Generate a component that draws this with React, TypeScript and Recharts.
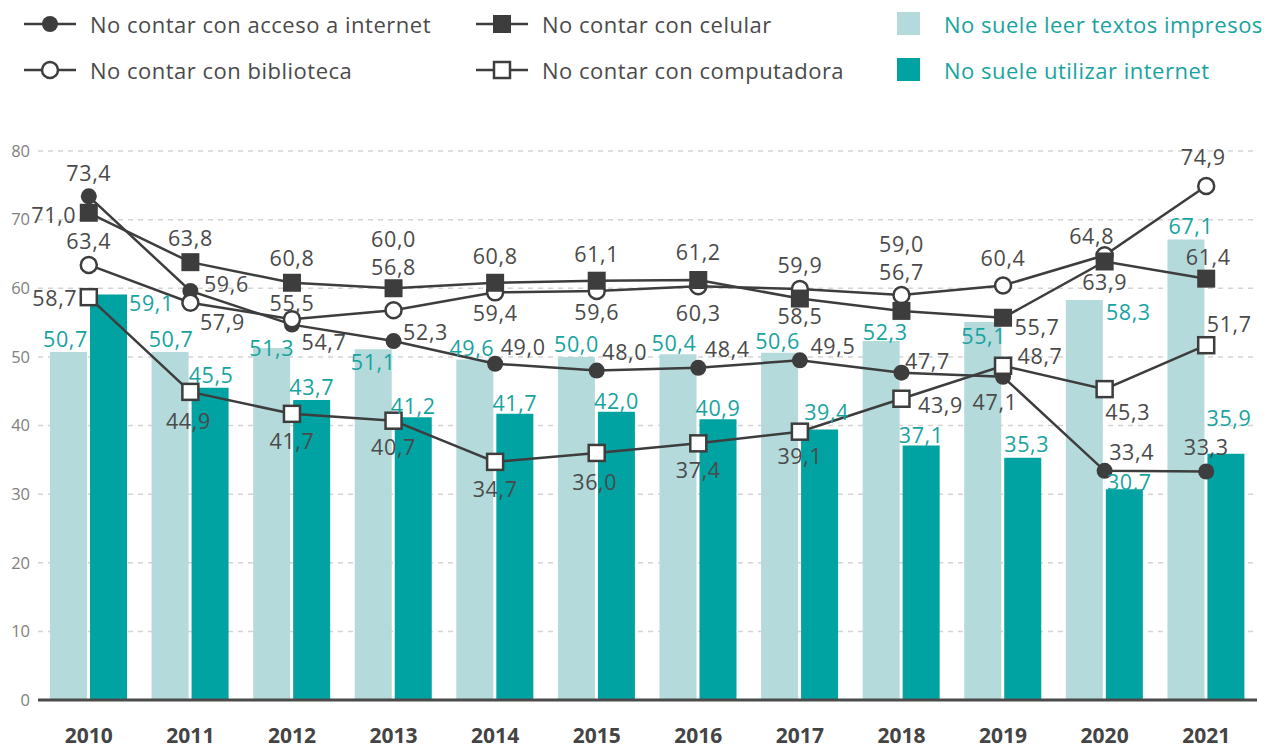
import React from 'react';
import { ComposedChart, Bar, Line, XAxis, YAxis, CartesianGrid, LabelList } from 'recharts';

const years = ['2010', '2011', '2012', '2013', '2014', '2015', '2016', '2017', '2018', '2019', '2020', '2021'];
const leerTextos = [50.7, 50.7, 51.3, 51.1, 49.6, 50.0, 50.4, 50.6, 52.3, 55.1, 58.3, 67.1];
const utilizarInternet = [59.1, 45.5, 43.7, 41.2, 41.7, 42.0, 40.9, 39.4, 37.1, 35.3, 30.7, 35.9];
const accesoInternet = [73.4, 59.6, 54.7, 52.3, 49.0, 48.0, 48.4, 49.5, 47.7, 47.1, 33.4, 33.3];
const celular = [71.0, 63.8, 60.8, 60.0, 60.8, 61.1, 61.2, 58.5, 56.7, 55.7, 63.9, 61.4];
const biblioteca = [63.4, 57.9, 55.5, 56.8, 59.4, 59.6, 60.3, 59.9, 59.0, 60.4, 64.8, 74.9];
const computadora = [58.7, 44.9, 41.7, 40.7, 34.7, 36.0, 37.4, 39.1, 43.9, 48.7, 45.3, 51.7];
const yTicks = [0, 10, 20, 30, 40, 50, 60, 70, 80];

const data = years.map((year, i) => ({
  year,
  leerTextos: leerTextos[i],
  utilizarInternet: utilizarInternet[i],
  accesoInternet: accesoInternet[i],
  celular: celular[i],
  biblioteca: biblioteca[i],
  computadora: computadora[i],
}));

// label placement (text centre relative to the point / bar top)
const accesoOffsets = [[0, -24], [36, -7], [32, 17], [32, -10], [28, -17], [28, -19], [29, -19], [33, -15], [26, -12], [-8, 25], [27, -19], [0, -25]];
const celularOffsets = [[-35, 2], [0, -25], [0, -25], [0, -50], [0, -27], [0, -27], [0, -29], [0, 17], [0, -39], [34, 9], [0, 20], [2, -22]];
const bibliotecaOffsets = [[0, -24], [32, 19], [0, -17], [0, -44], [0, 20], [0, 21], [0, 26], [0, -24], [0, -52], [0, -28], [-13, -20], [-3, -29]];
const computadoraOffsets = [[-34, 0], [-2, 29], [0, 27], [0, 26], [0, 27], [-2, 29], [0, 26], [0, 24], [39, 6], [37, -10], [23, 22], [23, -22]];
const leerOffsets = [[-3, -14], [1, -14], [0, 0], [0, 12], [-3, -12], [0, -13], [-4, -12], [-2, -12], [4, -10], [1, 14], [44, 12], [5, -14]];
const utilizarOffsets = [[43, 8], [1, -13], [0, -14], [0, -12], [0, -11], [0, -11], [0, -12], [7, -18], [0, -11], [4, -14], [5, -8], [3, -36]];

const FONT = '"Open Sans", "Noto Sans", sans-serif';
const DARK = '#3d3d3d';
const TEXT = '#4a4a4a';
const TEAL_TEXT = '#17a3a0';
const LIGHT_BAR = '#b4dadb';
const DARK_BAR = '#00a3a1';

const fmt = (v: number) => Number(v).toFixed(1).replace('.', ',');
const idxFromX = (cx: number) => Math.round((cx - 88.8) / 101.6);

function pointLabel(offsets: number[][], color: string) {
  return (props: any) => {
    const x = Number(props.x);
    const y = Number(props.y);
    const i = props.index ?? idxFromX(x);
    const [dx, dy] = offsets[i] ?? [0, -22];
    return (
      <text x={x + dx} y={y + dy} textAnchor="middle" dominantBaseline="central" fill={color} fontSize={21.5} letterSpacing={0.6} fontFamily={FONT}>
        {fmt(props.value)}
      </text>
    );
  };
}

function barLabel(offsets: number[][], color: string) {
  return (props: any) => {
    const cx = Number(props.x) + Number(props.width) / 2;
    const top = Number(props.y);
    const i = props.index ?? idxFromX(cx);
    const [dx, dy] = offsets[i] ?? [0, -12];
    return (
      <text x={cx + dx} y={top + dy} textAnchor="middle" dominantBaseline="central" fill={color} fontSize={21.5} letterSpacing={0.6} fontFamily={FONT}>
        {fmt(props.value)}
      </text>
    );
  };
}

const filledCircle = (p: any) => <circle key={`fc-${p.index}`} cx={p.cx} cy={p.cy} r={8} fill={DARK} />;
const openCircle = (p: any) => <circle key={`oc-${p.index}`} cx={p.cx} cy={p.cy} r={8} fill="#fff" stroke={DARK} strokeWidth={2.5} />;
const filledSquare = (p: any) => <rect key={`fs-${p.index}`} x={p.cx - 9} y={p.cy - 9} width={18} height={18} fill={DARK} />;
const openSquare = (p: any) => <rect key={`os-${p.index}`} x={p.cx - 8} y={p.cy - 8} width={16} height={16} fill="#fff" stroke={DARK} strokeWidth={2.5} />;

function LineIcon({ shape }: { shape: string }) {
  return (
    <svg width={56} height={24} style={{ position: 'absolute', left: 0, top: 0 }}>
      <line x1={2} y1={12} x2={54} y2={12} stroke={DARK} strokeWidth={2.5} />
      {shape === 'fc' && <circle cx={28} cy={12} r={8} fill={DARK} />}
      {shape === 'oc' && <circle cx={28} cy={12} r={8} fill="#fff" stroke={DARK} strokeWidth={2.5} />}
      {shape === 'fs' && <rect x={19} y={3} width={18} height={18} fill={DARK} />}
      {shape === 'os' && <rect x={20} y={4} width={16} height={16} fill="#fff" stroke={DARK} strokeWidth={2.5} />}
    </svg>
  );
}

const legendText = { position: 'absolute' as const, top: 0, lineHeight: '24px', fontSize: 22, letterSpacing: 0.5, whiteSpace: 'nowrap' as const };

function LegendLine({ left, top, shape, label }: { left: number; top: number; shape: string; label: string }) {
  return (
    <div style={{ position: 'absolute', left, top, height: 24 }}>
      <LineIcon shape={shape} />
      <span style={{ ...legendText, left: 68, color: TEXT }}>{label}</span>
    </div>
  );
}

function LegendBox({ left, top, color, label }: { left: number; top: number; color: string; label: string }) {
  return (
    <div style={{ position: 'absolute', left, top, height: 24 }}>
      <div style={{ position: 'absolute', left: 0, top: 0, width: 23, height: 23, background: color }} />
      <span style={{ ...legendText, left: 47, color: TEAL_TEXT }}>{label}</span>
    </div>
  );
}

export default function App() {
  return (
    <div style={{ position: 'absolute', left: 0, top: 0, width: 1275, height: 752, background: '#fff', fontFamily: FONT }}>
      <LegendLine left={22} top={12} shape="fc" label="No contar con acceso a internet" />
      <LegendLine left={474} top={12} shape="fs" label="No contar con celular" />
      <LegendLine left={22} top={58} shape="oc" label="No contar con biblioteca" />
      <LegendLine left={474} top={58} shape="os" label="No contar con computadora" />
      <LegendBox left={897} top={12} color={LIGHT_BAR} label="No suele leer textos impresos" />
      <LegendBox left={897} top={58} color={DARK_BAR} label="No suele utilizar internet" />
      <div style={{ position: 'absolute', left: 0, top: 0 }}>
        <ComposedChart
          width={1275}
          height={752}
          data={data}
          margin={{ top: 151, right: 18, bottom: 0, left: 0 }}
          barGap={3}
        >
          <CartesianGrid vertical={false} strokeDasharray="5 5" stroke="#d4d4d4" strokeWidth={1.5} />
          <XAxis
            dataKey="year"
            height={52}
            axisLine={{ stroke: '#4a4a4a', strokeWidth: 3 }}
            tickLine={false}
            tickMargin={22}
            tick={{ fill: '#444', fontSize: 21, fontWeight: 700, fontFamily: FONT }}
          />
          <YAxis
            width={38}
            domain={[0, 80]}
            ticks={yTicks}
            axisLine={false}
            tickLine={false}
            tick={{ fill: '#808080', fontSize: 16.5, fontFamily: FONT }}
          />
          <Bar dataKey="leerTextos" fill={LIGHT_BAR} barSize={37} isAnimationActive={false}>
            <LabelList dataKey="leerTextos" content={barLabel(leerOffsets, TEAL_TEXT)} />
          </Bar>
          <Bar dataKey="utilizarInternet" fill={DARK_BAR} barSize={37} isAnimationActive={false}>
            <LabelList dataKey="utilizarInternet" content={barLabel(utilizarOffsets, TEAL_TEXT)} />
          </Bar>
          <Line dataKey="accesoInternet" stroke={DARK} strokeWidth={2.5} dot={filledCircle} activeDot={false} isAnimationActive={false}>
            <LabelList dataKey="accesoInternet" content={pointLabel(accesoOffsets, TEXT)} />
          </Line>
          <Line dataKey="biblioteca" stroke={DARK} strokeWidth={2.5} dot={openCircle} activeDot={false} isAnimationActive={false}>
            <LabelList dataKey="biblioteca" content={pointLabel(bibliotecaOffsets, TEXT)} />
          </Line>
          <Line dataKey="celular" stroke={DARK} strokeWidth={2.5} dot={filledSquare} activeDot={false} isAnimationActive={false}>
            <LabelList dataKey="celular" content={pointLabel(celularOffsets, TEXT)} />
          </Line>
          <Line dataKey="computadora" stroke={DARK} strokeWidth={2.5} dot={openSquare} activeDot={false} isAnimationActive={false}>
            <LabelList dataKey="computadora" content={pointLabel(computadoraOffsets, TEXT)} />
          </Line>
        </ComposedChart>
      </div>
    </div>
  );
}
